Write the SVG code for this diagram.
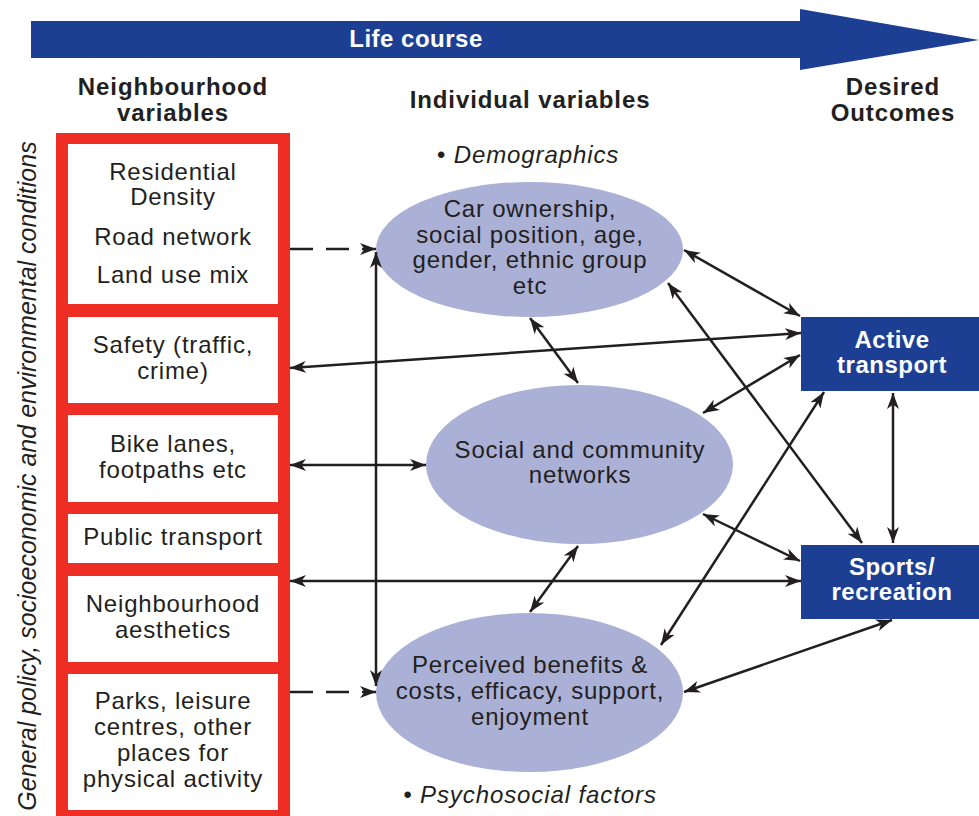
<svg xmlns="http://www.w3.org/2000/svg" width="979" height="816" viewBox="0 0 979 816">
<style>
  .t { font-family: "Liberation Sans", Arial, sans-serif; font-size: 24px; fill: #231f20; text-anchor: middle; letter-spacing: 0.8px; }
  .h { font-family: "Liberation Sans", Arial, sans-serif; font-size: 24px; font-weight: bold; fill: #231f20; text-anchor: middle; letter-spacing: 0.9px; }
  .w { font-family: "Liberation Sans", Arial, sans-serif; font-size: 24px; font-weight: bold; fill: #ffffff; text-anchor: middle; letter-spacing: 0.5px; }
  .i { font-family: "Liberation Sans", Arial, sans-serif; font-size: 24px; font-style: italic; fill: #231f20; text-anchor: middle; letter-spacing: 0.9px; }
  .v { font-family: "Liberation Sans", Arial, sans-serif; font-size: 25px; font-style: italic; fill: #231f20; text-anchor: middle; }
  .box { fill: #ffffff; }
  .ell { fill: #aab0d6; }
  .out { fill: #1c3f94; }
  .c { stroke: #231f20; stroke-width: 2.5; fill: none; marker-end: url(#ah); }
  .d { marker-start: url(#ah); }
  .dash { stroke-dasharray: 23 13; }
</style>
<defs>
  <marker id="ah" markerUnits="userSpaceOnUse" markerWidth="16" markerHeight="12" viewBox="0 0 16 12" refX="16" refY="6" orient="auto-start-reverse">
    <path d="M0,0 L16,6 L0,12 L4.5,6 Z" fill="#231f20"/>
  </marker>
</defs>

<g id="lifecourse">
  <path d="M31,21 H800 V9 L979,40 L800,70 V58 H31 Z" fill="#1c3f94"/>
  <text class="w" x="416" y="47" font-size="23" letter-spacing="1">Life course</text>
</g>

<g id="headers">
  <text class="h" x="173" y="95">Neighbourhood</text>
  <text class="h" x="173" y="121">variables</text>
  <text class="h" x="530" y="108">Individual variables</text>
  <text class="h" x="893" y="95">Desired</text>
  <text class="h" x="893" y="121">Outcomes</text>
  <text class="i" x="528" y="163">• Demographics</text>
  <text class="i" x="530" y="803">• Psychosocial factors</text>
  <text class="v" transform="translate(36,476) rotate(-90)" x="0" y="0">General policy, socioeconomic and environmental conditions</text>
</g>

<g id="neighbourhood-frame">
  <rect x="56" y="133" width="234" height="690" fill="#ee2d24"/>
</g>
<g id="n-density">
  <rect class="box" x="68" y="144" width="210" height="160"/>
  <text class="t" x="173" y="180">Residential</text>
  <text class="t" x="173" y="205">Density</text>
  <text class="t" x="173" y="245">Road network</text>
  <text class="t" x="173" y="283">Land use mix</text>
</g>
<g id="n-safety">
  <rect class="box" x="68" y="317" width="210" height="86"/>
  <text class="t" x="173" y="353">Safety (traffic,</text>
  <text class="t" x="173" y="379">crime)</text>
</g>
<g id="n-bike">
  <rect class="box" x="68" y="415" width="210" height="87"/>
  <text class="t" x="173" y="452">Bike lanes,</text>
  <text class="t" x="173" y="478">footpaths etc</text>
</g>
<g id="n-public">
  <rect class="box" x="68" y="514" width="210" height="49"/>
  <text class="t" x="173" y="545">Public transport</text>
</g>
<g id="n-aesthetics">
  <rect class="box" x="68" y="576" width="210" height="86"/>
  <text class="t" x="173" y="612">Neighbourhood</text>
  <text class="t" x="173" y="638">aesthetics</text>
</g>
<g id="n-parks">
  <rect class="box" x="68" y="674" width="210" height="136"/>
  <text class="t" x="173" y="709">Parks, leisure</text>
  <text class="t" x="173" y="735">centres, other</text>
  <text class="t" x="173" y="761">places for</text>
  <text class="t" x="173" y="787">physical activity</text>
</g>

<g id="e-demographics">
  <ellipse class="ell" cx="529.5" cy="249.5" rx="153.5" ry="67.5"/>
  <text class="t" x="530" y="217">Car ownership,</text>
  <text class="t" x="530" y="243">social position, age,</text>
  <text class="t" x="530" y="268">gender, ethnic group</text>
  <text class="t" x="530" y="294">etc</text>
</g>
<g id="e-social">
  <ellipse class="ell" cx="579.5" cy="464.5" rx="153.5" ry="79.5"/>
  <text class="t" x="580" y="458">Social and community</text>
  <text class="t" x="580" y="483">networks</text>
</g>
<g id="e-perceived">
  <ellipse class="ell" cx="529.5" cy="692.5" rx="153.5" ry="79.5"/>
  <text class="t" x="530" y="673">Perceived benefits &amp;</text>
  <text class="t" x="530" y="699">costs, efficacy, support,</text>
  <text class="t" x="530" y="725">enjoyment</text>
</g>

<g id="o-active">
  <rect class="out" x="801" y="317" width="178" height="74"/>
  <text class="w" x="892" y="348">Active</text>
  <text class="w" x="892" y="373">transport</text>
</g>
<g id="o-sports">
  <rect class="out" x="801" y="545" width="178" height="74"/>
  <text class="w" x="892" y="575">Sports/</text>
  <text class="w" x="892" y="600">recreation</text>
</g>

<g id="connectors">
  <path class="c dash" d="M290,249 H376"/>
  <path class="c dash" d="M290,692 H376"/>
  <path class="c d" d="M376,252 V686"/>
  <path class="c d" d="M290,368 L801,333"/>
  <path class="c d" d="M290,465 H426"/>
  <path class="c d" d="M290,581 H801"/>
  <path class="c d" d="M530,318 L578,383"/>
  <path class="c d" d="M578,546 L530,612"/>
  <path class="c d" d="M684,250 L800,316"/>
  <path class="c d" d="M668,283 L862,543"/>
  <path class="c d" d="M703,413 L800,355"/>
  <path class="c d" d="M703,514 L800,561"/>
  <path class="c d" d="M661,645 L824,392"/>
  <path class="c d" d="M893,393 V543"/>
  <path class="c d" d="M684,692 L892,620"/>
</g>
</svg>
